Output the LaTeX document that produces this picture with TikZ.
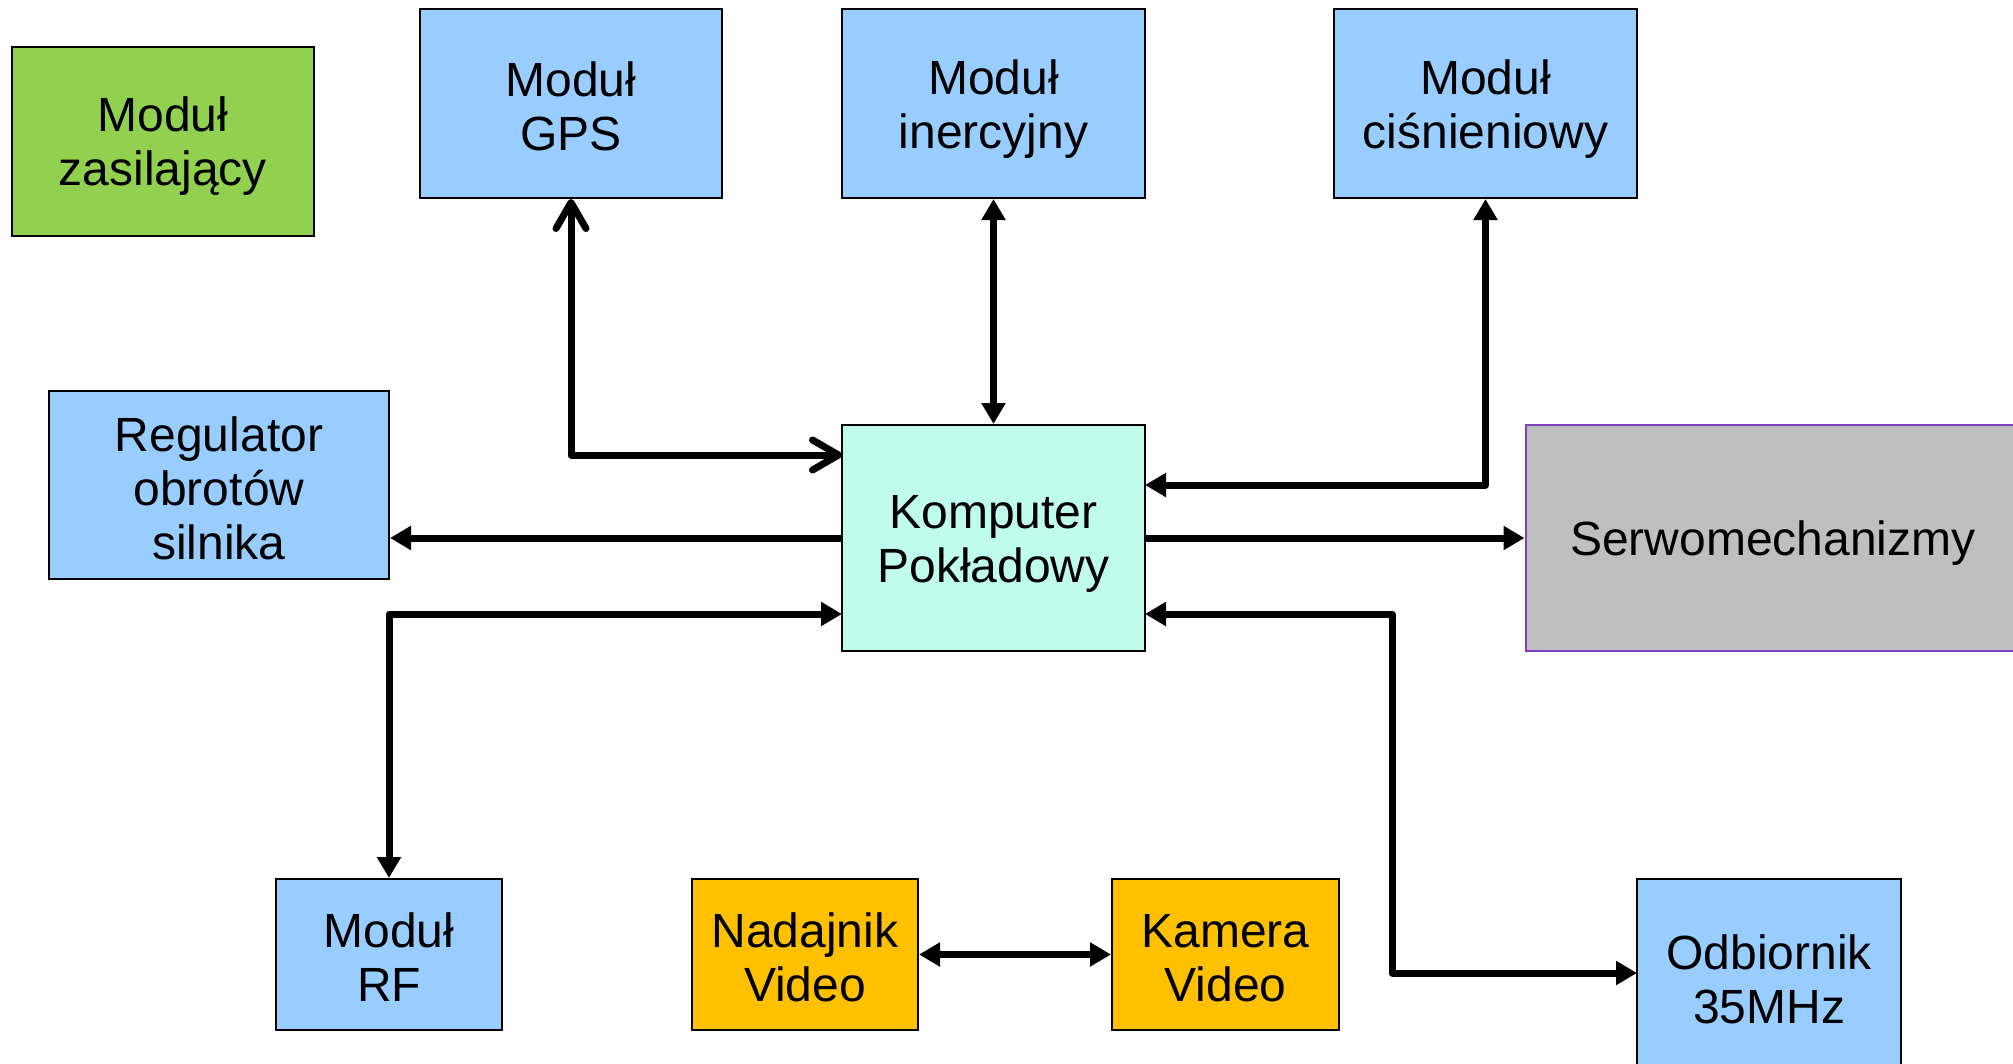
\documentclass[tikz,border=0pt]{standalone}
\usepackage{fontspec}
\setmainfont{Liberation Sans}
\usetikzlibrary{arrows.meta}
\definecolor{cblue}{HTML}{99CCFF}
\definecolor{cgreen}{HTML}{92D050}
\definecolor{cmint}{HTML}{C0FCEC}
\definecolor{corange}{HTML}{FFC000}
\definecolor{cgray}{HTML}{BFBFBF}
\definecolor{cpurple}{HTML}{7F3FBF}
\newcommand{\tp}{\rule{0pt}{45pt}}
\newcommand{\bt}{\rule[-5pt]{0pt}{5pt}}
\tikzset{
  box/.style={draw=black, line width=2pt, rectangle, inner sep=0pt, align=center,
    font=\fontsize{48}{54}\selectfont},
  conn/.style={draw=black, line width=7pt, line join=round},
  tri/.style={conn, {Triangle[length=21pt,width=23pt]}-{Triangle[length=21pt,width=23pt]}},
  trie/.style={conn, -{Triangle[length=21pt,width=23pt]}},
  barb/.style={conn, {Straight Barb[length=26pt,width=30pt,round]}-{Straight Barb[length=26pt,width=30pt,round]}}
}
\begin{document}
\begin{tikzpicture}[x=1pt,y=-1pt]
\path[use as bounding box] (0,0) rectangle (2013,1063);
\clip (0,0) rectangle (2013,1063);
\fill[white] (0,0) rectangle (2013,1063);

\node[box, fill=cgreen, minimum width=302.5pt, minimum height=189pt] (zas) at (162.75,141) {\tp Moduł\\zasilający\bt};
\node[box, fill=cblue, minimum width=302pt, minimum height=189pt] (gps) at (571,103.5) {\tp Moduł\\GPS\bt};
\node[box, fill=cblue, minimum width=303pt, minimum height=189pt] (ine) at (993.5,103.5) {\tp Moduł\\inercyjny\bt};
\node[box, fill=cblue, minimum width=303pt, minimum height=189pt] (cis) at (1485.5,103.5) {\tp Moduł\\ciśnieniowy\bt};
\node[box, fill=cblue, minimum width=340pt, minimum height=188pt] (reg) at (219,485) {\tp Regulator\\obrotów\\silnika\bt};
\node[box, fill=cmint, minimum width=303pt, minimum height=226pt] (kom) at (993.5,538) {\tp Komputer\\Pokładowy\bt};
\node[box, draw=cpurple, fill=cgray, minimum width=494.5pt, minimum height=226pt] (srw) at (1772.75,538) {\tp Serwomechanizmy\bt};
\node[box, fill=cblue, minimum width=226pt, minimum height=151pt] (rf) at (389,954.5) {\tp Moduł\\RF\bt};
\node[box, fill=corange, minimum width=226pt, minimum height=151pt] (nad) at (805,954.5) {\tp Nadajnik\\Video\bt};
\node[box, fill=corange, minimum width=227pt, minimum height=151pt] (kam) at (1225.5,954.5) {\tp Kamera\\Video\bt};
\node[box, fill=cblue, minimum width=264pt, minimum height=194pt] (odb) at (1769,976) {\tp Odbiornik\\35MHz\bt};

\coordinate (kgps) at (842,455);
\coordinate (kcis) at (1145,485);
\coordinate (krf) at (842,614);
\coordinate (kodb) at (1145,614);
\coordinate (odbin) at (1637,973);
\coordinate (odbbend) at (1392,973);

\draw[barb] (gps.south) |- (kgps);
\draw[tri] (ine.south) -- (kom.north);
\draw[tri] (cis.south) |- (kcis);
\draw[trie] (kom.west) -- (kom.west -| reg.east);
\draw[trie] (kom.east) -- (srw.west);
\draw[tri] (krf) -| (rf.north);
\draw[tri] (kodb) -| (odbbend) -- (odbin);
\draw[tri] (nad.east) -- (kam.west);
\end{tikzpicture}
\end{document}
